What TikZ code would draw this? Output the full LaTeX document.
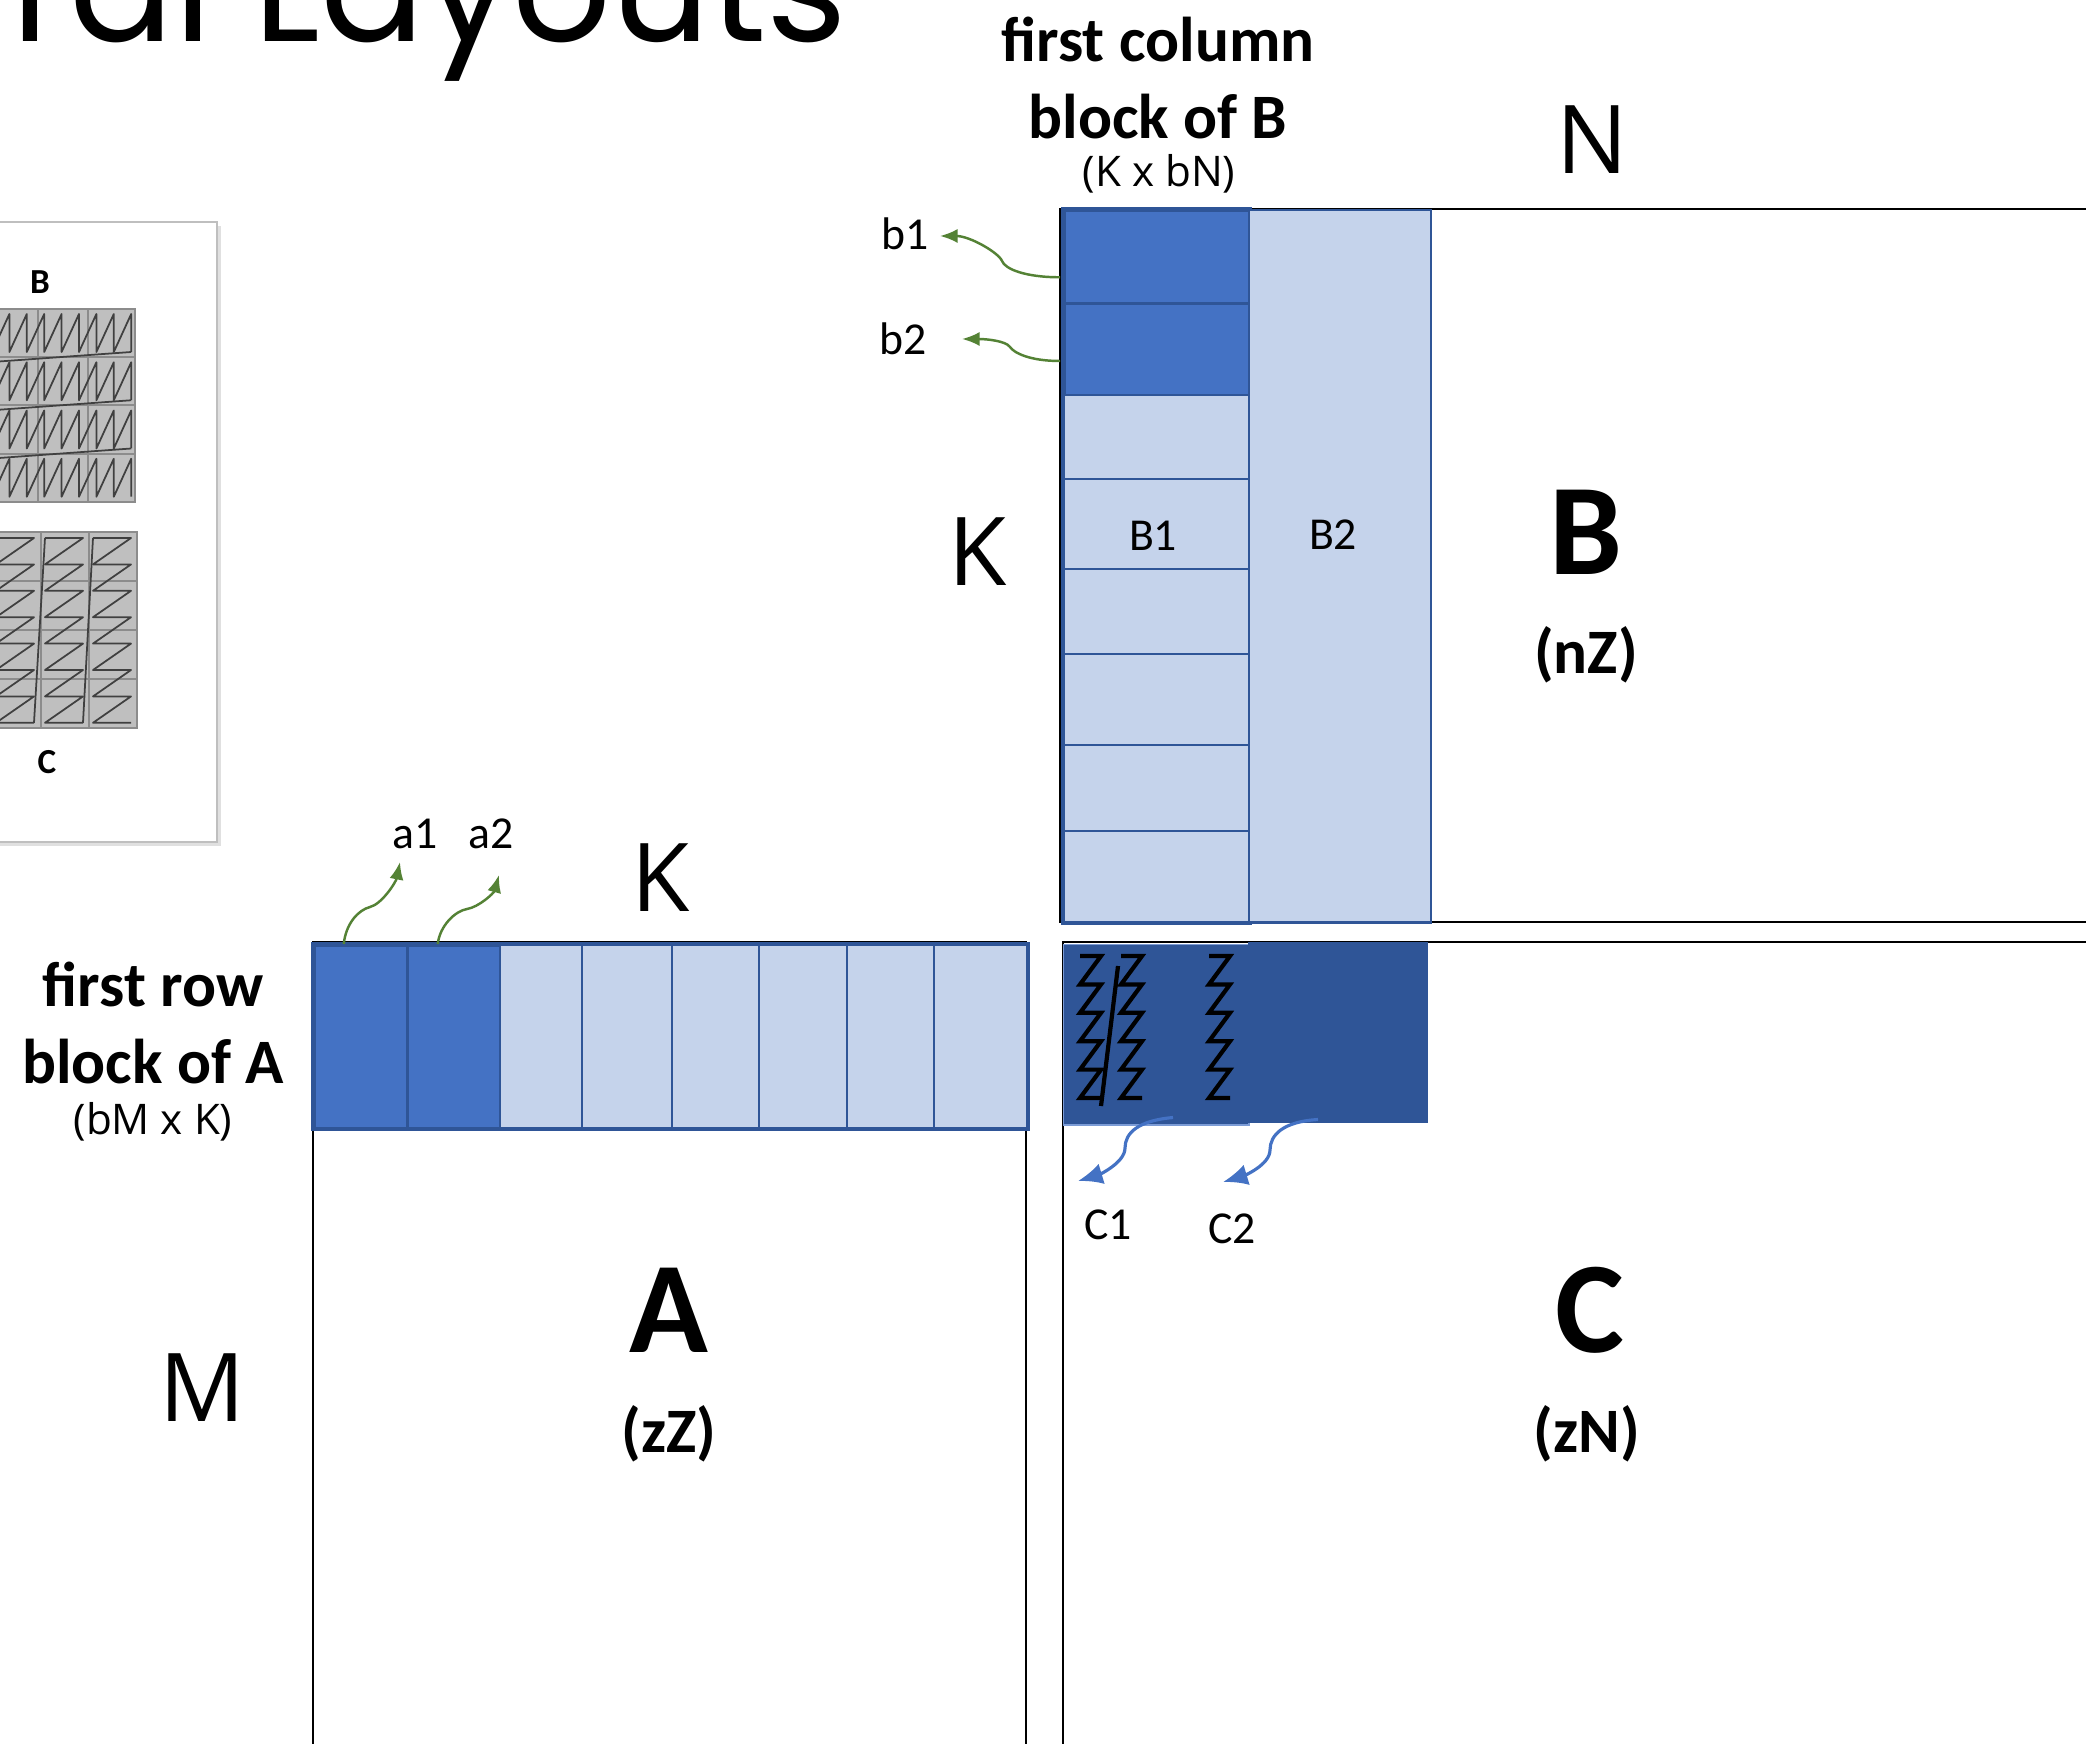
\documentclass[tikz,border=0pt]{standalone}
\usepackage{fontspec}
\setmainfont{Carlito}
\newfontfamily\titlefont{Poppins}
\newfontfamily\handfont{Open Sans}
\usetikzlibrary{arrows.meta,calc}
\definecolor{bmid}{HTML}{4472C4}
\definecolor{blight}{HTML}{C5D3EB}
\definecolor{bdark}{HTML}{2F5597}
\definecolor{agreen}{HTML}{548235}
\definecolor{pgray}{HTML}{BFBFBF}
\tikzset{
  >={Latex[length=5pt,width=4pt]},
  mtx/.style={draw=black, line width=0.6pt},
  dcell/.style={draw=bdark, line width=0.9pt, fill=bmid, inner sep=0pt, anchor=north west},
  lcell/.style={draw=bdark, line width=0.6pt, fill=blight, inner sep=0pt, anchor=north west},
  ccell/.style={draw=bdark, line width=0.4pt, fill=bdark, inner sep=0pt, anchor=north west},
  hdr/.style={font=\bfseries\fontsize{18}{22}\selectfont, align=center},
  dimlbl/.style={font=\handfont\fontsize{12}{14}\selectfont},
  hand/.style={font=\handfont\fontsize{27}{30}\selectfont},
  big/.style={font=\bfseries\fontsize{37}{40}\selectfont},
  layout/.style={font=\bfseries\fontsize{18}{20}\selectfont},
  tag/.style={font=\fontsize{13}{15}\selectfont},
  garrow/.style={->, draw=agreen, line width=0.7pt},
  barrow/.style={-{Latex[length=7pt,width=6pt]}, draw=bmid, line width=0.9pt},
  zz/.style={draw=black!75, line width=0.5pt, line join=round},
  zc/.style={draw=black, line width=1.2pt, line join=miter},
}
\begin{document}
\begin{tikzpicture}[x=0.01cm, y=-0.01cm]
  \useasboundingbox (0,0) rectangle (2086,1743);
  \clip (0,0) rectangle (2086,1743);
  \fill[white] (0,0) rectangle (2086,1743);

  % slide title, cut at the top
  \node[font=\titlefont\fontsize{44}{50}\selectfont, anchor=base east, inner sep=0pt] (title) at (848,42) {ral Layouts};

  % inset picture of the tile orders
  \fill[black!12] (-10,226) rectangle (221,846);
  \draw[black!25, fill=white, line width=0.4pt] (-10,222) rectangle (217,842);
  \node[font=\bfseries\fontsize{10}{12}\selectfont] (pB) at (40,282) {B};
  \node[font=\bfseries\fontsize{10}{12}\selectfont] (pC) at (47,762) {C};
  % B tiles
  \fill[pgray] (-12,309) rectangle (135,502);
  \draw[black!45, line width=0.4pt] (-12,309) rectangle (135,502)
    (38,309) -- (38,502) (88,309) -- (88,502)
    (-12,357) -- (135,357) (-12,405) -- (135,405) (-12,454) -- (135,454);
  \foreach \r in {0,...,3} {
    \draw[zz] (-8,314+48.25*\r) foreach \k in {0,...,7} {
      -- (-8+17.4*\k, 352+48.25*\r) -- (9.4+17.4*\k, 314+48.25*\r) } -- (131.2, 352+48.25*\r);
  }
  \foreach \r in {0,...,2}
    \draw[zz] (131.2, 352+48.25*\r) -- (-8, 362+48.25*\r);
  % C tiles
  \fill[pgray] (-8,532) rectangle (137,728);
  \draw[black!45, line width=0.4pt] (-8,532) rectangle (137,728)
    (41,532) -- (41,728) (89,532) -- (89,728)
    (-8,581) -- (137,581) (-8,630) -- (137,630) (-8,679) -- (137,679);
  \foreach \l in {-4,45,93} {
    \draw[zz] (\l,538) foreach \k in {0,...,6} {
      -- (\l+38, 538+26.4*\k) -- (\l, 564.4+26.4*\k) } -- (\l+38, 722.8);
  }
  \draw[zz] (34,722.8) -- (45,538);
  \draw[zz] (83,722.8) -- (93,538);

  % matrix outlines
  \draw[mtx] (1060,209) rectangle (2100,922);
  \draw[mtx] (1063,942) rectangle (2100,1800);
  \draw[mtx] (313,942) rectangle (1026,1800);

  % first row block of A
  \foreach \x/\w [count=\i] in {313/93,406/93}
    \node[dcell, minimum width=\w*0.01cm, minimum height=1.83cm] (Ablk\i) at (\x,944) {};
  \foreach \x/\w [count=\i from 3] in {499/82,581/90,671/87,758/88,846/87,933/93}
    \node[lcell, minimum width=\w*0.01cm, minimum height=1.83cm] (Ablk\i) at (\x,944) {};
  \draw[bdark, line width=0.9pt] (Ablk1.north west) rectangle (Ablk8.south east);

  % first column block of B
  \foreach \y/\h [count=\i] in {209/93,302/92}
    \node[dcell, minimum width=1.85cm, minimum height=\h*0.01cm] (Bblk\i) at (1063,\y) {};
  \foreach \y/\h [count=\i from 3] in {394/84,478/90,568/85,653/91,744/86,830/91}
    \node[lcell, minimum width=1.85cm, minimum height=\h*0.01cm] (Bblk\i) at (1063,\y) {};
  \draw[bdark, line width=1pt] (Bblk1.north west) rectangle (Bblk8.south east);
  \node[lcell, minimum width=1.82cm, minimum height=7.12cm] (Bcol2) at (1248,209) {};
  \node[tag] (B1lbl) at (1153,536) {B1};
  \node[tag] (B2lbl) at (1333,535) {B2};

  % C tiles
  \node[ccell, minimum width=1.85cm, minimum height=1.80cm, draw=bmid!70] (Cblk1) at (1063,944) {};
  \node[ccell, minimum width=1.78cm, minimum height=1.79cm] (Cblk2) at (1248,942) {};
  \foreach \l in {1080,1121,1209}
    \draw[zc] (\l,956) foreach \k in {0,...,4} {
      -- (\l+21, 956+28.4*\k) -- (\l, 984.4+28.4*\k) } -- (\l+21, 1098);
  \draw[zc] (1101,1106) -- (1118,966);

  % headings and sizes
  \node[hdr] (Bhdr) at (1158,78) {first column\\block of B};
  \node[dimlbl] (Bdim) at (1159,174) {(K x bN)};
  \node[hdr] (Ahdr) at (153,1023) {first row\\block of A};
  \node[dimlbl] (Adim) at (153,1122) {(bM x K)};
  \node[hand] (Nlbl) at (1592,140) {N};
  \node[hand] (Kb) at (978,552) {K};
  \node[hand] (Ka) at (661,878) {K};
  \node[hand] (Mlbl) at (202,1388) {M};

  % matrix names
  \node[big] (Bname) at (1586,532) {B};
  \node[layout] (Blay) at (1586,655) {(nZ)};
  \node[big] (Aname) at (669,1310) {A};
  \node[layout] (Alay) at (669,1434) {(zZ)};
  \node[big] (Cname) at (1590,1310) {C};
  \node[layout] (Clay) at (1587,1434) {(zN)};

  % tile labels and arrows
  \node[tag] (a1) at (415,834) {a1};
  \node[tag] (a2) at (491,834) {a2};
  \node[tag] (b1) at (905,234) {b1};
  \node[tag] (b2) at (903,339) {b2};
  \node[tag] (C1) at (1108,1225) {C1};
  \node[tag] (C2) at (1232,1229) {C2};
  \coordinate (a1tip) at (400,862);
  \coordinate (a2tip) at (499,875);
  \coordinate (b1tip) at (940,236);
  \coordinate (b2tip) at (962,339);
  \coordinate (c1tip) at (1078,1181);
  \coordinate (c2tip) at (1223,1182);
  \draw[garrow] ($(Ablk1.north west)!0.32!(Ablk1.north east)$)
    .. controls +(2,-20) and +(-12,3) .. (370,907)
    .. controls +(12,-3) and +(-4,20) .. (a1tip);
  \draw[garrow] ($(Ablk2.north west)!0.33!(Ablk2.north east)$)
    .. controls +(2,-18) and +(-12,2) .. (467,909)
    .. controls +(12,-2) and +(-5,18) .. (a2tip);
  \draw[garrow] ($(Bblk1.north west)!0.71!(Bblk1.south west)+(-3,0)$)
    .. controls +(-35,0) and +(3,8) .. (1002,261)
    .. controls +(-3,-8) and +(30,0) .. (b1tip);
  \draw[garrow] ($(Bblk2.north west)!0.62!(Bblk2.south west)+(-3,0)$)
    .. controls +(-30,0) and +(4,6) .. (1010,347)
    .. controls +(-4,-6) and +(25,0) .. (b2tip);
  \draw[barrow] ($(Cblk1.south west)!0.59!(Cblk1.south east)+(0,-8)$)
    .. controls +(-35,3) and +(0,-15) .. (1125,1148)
    .. controls +(0,15) and +(20,-6) .. (c1tip);
  \draw[barrow] ($(Cblk2.south west)!0.39!(Cblk2.south east)+(0,-3)$)
    .. controls +(-35,2) and +(0,-15) .. (1270,1150)
    .. controls +(0,15) and +(20,-6) .. (c2tip);
\end{tikzpicture}
\end{document}
